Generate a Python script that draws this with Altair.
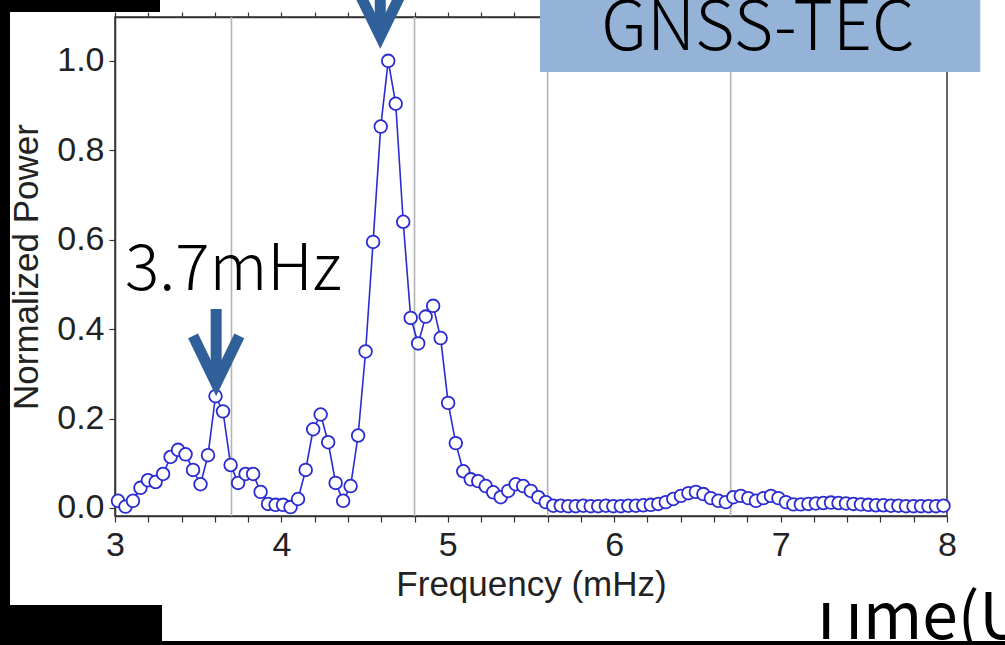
import altair as alt
import pandas as pd

# ---- data ----
freq = [3.018, 3.063, 3.108, 3.153, 3.198, 3.244, 3.289, 3.334, 3.379, 3.424,
        3.469, 3.514, 3.559, 3.604, 3.649, 3.695, 3.740, 3.785, 3.830, 3.875,
        3.920, 3.965, 4.010, 4.055, 4.100, 4.146, 4.191, 4.236, 4.281, 4.326,
        4.371, 4.416, 4.461, 4.506, 4.551, 4.597, 4.642, 4.687, 4.732, 4.777,
        4.822, 4.867, 4.912, 4.957, 5.002, 5.048, 5.093, 5.138, 5.183, 5.228,
        5.273, 5.318, 5.363, 5.408, 5.453, 5.499, 5.544, 5.589, 5.634, 5.679,
        5.724, 5.769, 5.814, 5.859, 5.904, 5.950, 5.995, 6.040, 6.085, 6.130,
        6.175, 6.220, 6.265, 6.310, 6.355, 6.401, 6.446, 6.491, 6.536, 6.581,
        6.626, 6.671, 6.716, 6.761, 6.806, 6.852, 6.897, 6.942, 6.987, 7.032,
        7.077, 7.122, 7.167, 7.212, 7.257, 7.303, 7.348, 7.393, 7.438, 7.483,
        7.528, 7.573, 7.618, 7.663, 7.708, 7.754, 7.799, 7.844, 7.889, 7.934,
        7.979]
power = [0.016, 0.003, 0.016, 0.045, 0.062, 0.058, 0.076, 0.114, 0.130, 0.120,
         0.085, 0.053, 0.118, 0.250, 0.216, 0.096, 0.056, 0.076, 0.076, 0.036,
         0.009, 0.007, 0.007, 0.002, 0.020, 0.085, 0.176, 0.209, 0.147, 0.056,
         0.016, 0.049, 0.162, 0.350, 0.595, 0.853, 1.000, 0.904, 0.640, 0.425,
         0.368, 0.428, 0.452, 0.380, 0.235, 0.145, 0.082, 0.064, 0.060, 0.049,
         0.035, 0.024, 0.038, 0.053, 0.049, 0.038, 0.024, 0.013, 0.005, 0.005,
         0.004, 0.004, 0.005, 0.004, 0.004, 0.005, 0.004, 0.004, 0.005, 0.005,
         0.006, 0.007, 0.009, 0.013, 0.020, 0.027, 0.033, 0.036, 0.031, 0.022,
         0.016, 0.013, 0.024, 0.027, 0.022, 0.016, 0.022, 0.027, 0.022, 0.013,
         0.008, 0.008, 0.009, 0.010, 0.011, 0.012, 0.011, 0.010, 0.009, 0.008,
         0.007, 0.006, 0.006, 0.005, 0.005, 0.004, 0.004, 0.004, 0.004, 0.004,
         0.005]
ref_lines = [3.7, 4.8, 5.6, 6.7]
x_ticks = [3, 3.2, 3.4, 3.6, 3.8, 4, 4.2, 4.4, 4.6, 4.8, 5, 5.2, 5.4, 5.6, 5.8,
           6, 6.2, 6.4, 6.6, 6.8, 7, 7.2, 7.4, 7.6, 7.8, 8]
y_ticks = [0.0, 0.2, 0.4, 0.6, 0.8, 1.0]

# annotation geometry (data coordinates)
arrow_id = ["a1", "a1", "a1", "a1s", "a1s", "a2", "a2", "a2", "a2s", "a2s"]
arrow_x = [3.469, 3.608, 3.747, 3.608, 3.608, 4.456, 4.594, 4.732, 4.594, 4.594]
arrow_y = [0.385, 0.278, 0.385, 0.300, 0.445, 1.160, 1.055, 1.160, 1.080, 1.250]
arrow_o = [0, 1, 2, 0, 1, 0, 1, 2, 0, 1]

BLUE = "#2b2bd2"
ARROW = "#30609a"
FONT = "Liberation Sans"

df = pd.DataFrame({"f": freq, "p": power})
rules_df = pd.DataFrame({"f": ref_lines})
arrows_df = pd.DataFrame({"id": arrow_id, "x": arrow_x, "y": arrow_y, "o": arrow_o})

xscale = alt.Scale(domain=[3, 8], nice=False, zero=False)
yscale = alt.Scale(domain=[-0.018, 1.098], nice=False, zero=False)

xaxis = alt.Axis(values=x_ticks,
                 labelExpr="abs(datum.value - round(datum.value)) < 0.01 ? format(datum.value, 'd') : ''",
                 title="Frequency (mHz)", grid=False, tickSize=6, labelPadding=6,
                 titlePadding=5, labelOverlap=False, labelBound=False,
                 labelFlush=False)
xaxis_top = alt.Axis(values=x_ticks, orient="top", labels=False, title=None,
                     grid=False, tickSize=5)
yaxis = alt.Axis(values=y_ticks, format=".1f", title="Normalized Power", grid=False,
                 tickSize=6, labelPadding=5, titlePadding=12, labelOverlap=False)

rules = alt.Chart(rules_df).mark_rule(color="#b4b4b4", strokeWidth=1.6).encode(
    x=alt.X("f:Q", scale=xscale, axis=xaxis_top))

line = alt.Chart(df).mark_line(color=BLUE, strokeWidth=1.6).encode(
    x=alt.X("f:Q", scale=xscale, axis=xaxis),
    y=alt.Y("p:Q", scale=yscale, axis=yaxis))

pts = alt.Chart(df).mark_point(shape="circle", size=160, filled=True, fill="white",
                               stroke=BLUE, strokeWidth=1.8, opacity=1).encode(
    x=alt.X("f:Q", scale=xscale, axis=None),
    y=alt.Y("p:Q", scale=yscale))

arrows = alt.Chart(arrows_df).mark_line(color=ARROW, strokeWidth=11, strokeCap="butt",
                                        strokeJoin="miter").encode(
    x=alt.X("x:Q", scale=xscale, axis=None),
    y=alt.Y("y:Q", scale=yscale),
    detail="id:N", order="o:Q")

label_df = pd.DataFrame({"x": [3.06], "y": [0.487], "t": ["3.7mHz"]})
lab = alt.Chart(label_df).mark_text(align="left", baseline="alphabetic", fontSize=64,
                                    font="Noto Sans CJK JP", fontWeight=300,
                                    color="black").encode(
    x=alt.X("x:Q", scale=xscale, axis=None), y=alt.Y("y:Q", scale=yscale), text="t:N")

box_df = pd.DataFrame({"x": [5.554], "x2": [8.2], "y": [0.975], "y2": [1.2]})
box = alt.Chart(box_df).mark_rect(color="#95b3d7").encode(
    x=alt.X("x:Q", scale=xscale, axis=None), x2="x2:Q",
    y=alt.Y("y:Q", scale=yscale), y2="y2:Q")

gt_df = pd.DataFrame({"x": [6.864], "y": [1.024], "t": ["GNSS-TEC"]})
gt = alt.Chart(gt_df).mark_text(align="center", baseline="alphabetic", fontSize=68,
                                font="Noto Sans CJK JP", fontWeight=300,
                                color="black").encode(
    x=alt.X("x:Q", scale=xscale, axis=None), y=alt.Y("y:Q", scale=yscale), text="t:N")

# slide decorations around the cropped figure (pixel positions)
def prect(x0, x1, y0, y1, color):
    return alt.Chart(pd.DataFrame({"a": [0]})).mark_rect(color=color).encode(
        x=alt.value(x0), x2=alt.value(x1), y=alt.value(y0), y2=alt.value(y1))

time_txt = alt.Chart(pd.DataFrame({"t": ["Time(UT)"]})).mark_text(
    align="left", baseline="alphabetic", fontSize=64, font="Noto Sans CJK JP",
    color="black").encode(x=alt.value(692), y=alt.value(622), text="t:N")

deco = [
    time_txt,
    prect(650, 842, 552, 586, "white"),
    prect(-115, 45, -17, -5, "black"),
    prect(-115, -105, -17, 628, "black"),
    prect(-115, 47, 588, 628, "black"),
    prect(-115, 890, 624, 628, "black"),
]

chart = alt.layer(rules, box, gt, line, pts, arrows, lab, *deco).resolve_axis(
    x="independent").properties(
    width=832, height=499,
    autosize=alt.AutoSizeParams(type="none"),
    padding={"left": 115, "top": 17, "right": 58, "bottom": 129},
    background="white",
).configure_view(stroke="#333333", strokeWidth=1.5).configure_axis(
    labelFont=FONT, titleFont=FONT, labelFontSize=34, titleFontSize=35,
    titleFontWeight="normal", labelColor="#222222", titleColor="#222222",
    domainColor="#333333", domainWidth=1.5, tickColor="#333333", tickWidth=1.2)

chart.save("out.html", embed_options={"renderer": "svg", "actions": False})
